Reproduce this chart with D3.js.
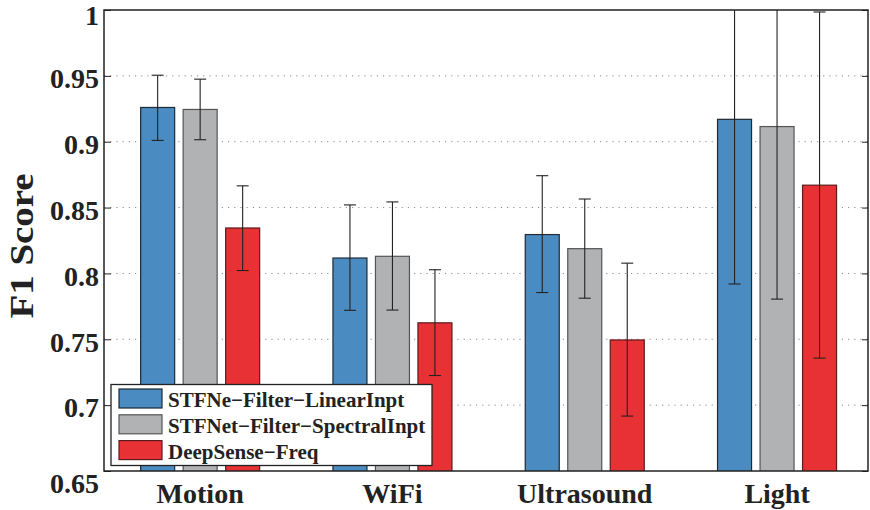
<!DOCTYPE html>
<html>
<head>
<meta charset="utf-8">
<script src="https://cdn.jsdelivr.net/npm/d3@7"></script>
<style>
  body { margin: 0; background: #fff; }
  svg text { font-family: "Liberation Serif", "Times New Roman", serif; font-weight: bold; fill: #222; }
</style>
</head>
<body>
<div class="container"></div>
<script>
const categories = ["Motion", "WiFi", "Ultrasound", "Light"];
const seriesNames = ["STFNe\u2212Filter\u2212LinearInpt", "STFNet\u2212Filter\u2212SpectralInpt", "DeepSense\u2212Freq"];
const seriesColors = ["#4a8bc1", "#b1b2b4", "#e83135"];
const seriesStroke = ["#1e2a36", "#555555", "#5a1c1e"];

const linearVals = [0.926, 0.8117, 0.8295, 0.917];
const spectralVals = [0.9245, 0.8130, 0.8188, 0.9115];
const freqVals = [0.8345, 0.7625, 0.7495, 0.867];

const linearLow = [0.901, 0.772, 0.7855, 0.792];
const linearHigh = [0.9505, 0.852, 0.8742, 1.042];
const spectralLow = [0.9015, 0.7722, 0.7812, 0.7805];
const spectralHigh = [0.9475, 0.8543, 0.8565, 1.043];
const freqLow = [0.8022, 0.7225, 0.6917, 0.7357];
const freqHigh = [0.8665, 0.8028, 0.8078, 0.9985];

const yTicks = [0.65, 0.7, 0.75, 0.8, 0.85, 0.9, 0.95, 1];

const w = 870, h = 510;
const pLeft = 104, pRight = 868, pTop = 10, pBottom = 471;

const values = [linearVals, spectralVals, freqVals];
const lows = [linearLow, spectralLow, freqLow];
const highs = [linearHigh, spectralHigh, freqHigh];

const svg = d3.select(".container").append("svg")
  .attr("width", w).attr("height", h);

const x0 = d3.scaleBand().domain(categories).range([pLeft, pLeft + 4 * 192.3]);
const x1 = d3.scaleBand().domain([0, 1, 2]).range([-59.5, 59.5]).paddingInner(0.2);
const y = d3.scaleLinear().domain([0.65, 1]).range([pBottom, pTop]);

svg.append("defs").append("clipPath").attr("id", "plot")
  .append("rect").attr("x", pLeft).attr("y", pTop)
  .attr("width", pRight - pLeft).attr("height", pBottom - pTop);

// dotted grid
svg.append("g").selectAll("line")
  .data(yTicks.slice(1, -1))
  .enter().append("line")
  .attr("x1", pLeft).attr("x2", pRight)
  .attr("y1", d => y(d)).attr("y2", d => y(d))
  .attr("stroke", "#8a8a8a").attr("stroke-width", 1)
  .attr("stroke-dasharray", "1.2,5");

// bars
const rows = [];
categories.forEach((c, i) => {
  for (let s = 0; s < 3; s++) {
    rows.push({ c, s, v: values[s][i], lo: lows[s][i], hi: highs[s][i] });
  }
});
const bx = d => x0(d.c) + x0.bandwidth() / 2 + x1(d.s);

const plot = svg.append("g").attr("clip-path", "url(#plot)");
plot.selectAll("rect.bar").data(rows).enter().append("rect")
  .attr("class", "bar")
  .attr("x", bx)
  .attr("y", d => y(d.v))
  .attr("width", x1.bandwidth())
  .attr("height", d => y(0.65) - y(d.v) + 5)
  .attr("fill", d => seriesColors[d.s])
  .attr("stroke", d => seriesStroke[d.s])
  .attr("stroke-width", 1.2);

// error bars
const eb = plot.selectAll("g.err").data(rows).enter().append("g")
  .attr("stroke", "#222").attr("stroke-width", 1.1);
const cx = d => bx(d) + x1.bandwidth() / 2;
eb.append("line")
  .attr("x1", cx).attr("x2", cx)
  .attr("y1", d => y(d.lo)).attr("y2", d => y(d.hi));
eb.append("line")
  .attr("x1", d => cx(d) - 6).attr("x2", d => cx(d) + 6)
  .attr("y1", d => y(d.lo)).attr("y2", d => y(d.lo));
eb.append("line")
  .attr("x1", d => cx(d) - 6).attr("x2", d => cx(d) + 6)
  .attr("y1", d => y(d.hi)).attr("y2", d => y(d.hi));

// axes
const yAxis = d3.axisLeft(y).tickValues(yTicks).tickSize(-7).tickPadding(5)
  .tickFormat(d => d3.format("")(+d.toFixed(2)));
const gy = svg.append("g").attr("transform", `translate(${pLeft},0)`).call(yAxis);
gy.select(".domain").remove();
gy.selectAll("line").attr("stroke", "#222");
gy.selectAll("text").style("font-size", "28px")
  .attr("dy", d => d === 0.65 ? "0.78em" : d === 1 ? "0.53em" : "0.42em");

const gyr = svg.append("g").attr("transform", `translate(${pRight},0)`)
  .call(d3.axisRight(y).tickValues(yTicks).tickSize(-6).tickFormat(""));
gyr.select(".domain").remove();
gyr.selectAll("line").attr("stroke", "#222");

const xAxis = d3.axisBottom(x0).tickSize(0).tickPadding(0);
const gx = svg.append("g").attr("transform", `translate(0,${pBottom})`).call(xAxis);
gx.select(".domain").remove();
gx.selectAll("text").style("font-size", "28px").attr("y", 32).attr("dy", null);

// frame
svg.append("rect").attr("x", pLeft).attr("y", pTop)
  .attr("width", pRight - pLeft).attr("height", pBottom - pTop)
  .attr("fill", "none").attr("stroke", "#222").attr("stroke-width", 1.5);

// y title
svg.append("text")
  .attr("transform", `translate(33,246) rotate(-90)`)
  .attr("text-anchor", "middle")
  .attr("textLength", 145)
  .attr("lengthAdjust", "spacingAndGlyphs")
  .style("font-size", "33px")
  .text("F1 Score");

// legend
const lg = svg.append("g");
lg.append("rect").attr("x", 111).attr("y", 384.5).attr("width", 321).attr("height", 81)
  .attr("fill", "#fff").attr("stroke", "#222").attr("stroke-width", 1.3);
const items = lg.selectAll("g.item").data(seriesNames).enter().append("g")
  .attr("transform", (d, i) => `translate(119,${389 + i * 25.8})`);
items.append("rect").attr("width", 43).attr("height", 19)
  .attr("fill", (d, i) => seriesColors[i])
  .attr("stroke", (d, i) => seriesStroke[i]).attr("stroke-width", 1.2);
items.append("text").attr("x", 49).attr("y", 18.3)
  .style("font-size", "21px")
  .text(d => d);
</script>
</body>
</html>
